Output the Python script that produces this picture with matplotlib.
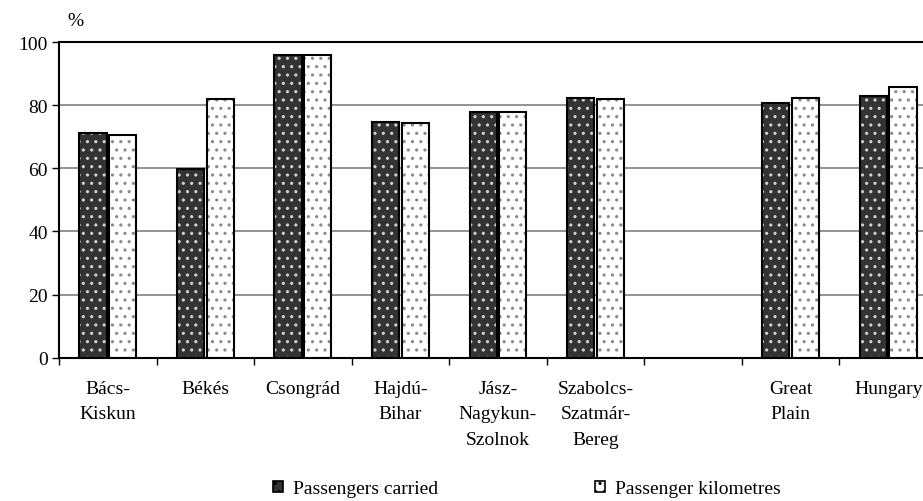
import matplotlib
matplotlib.use("Agg")
import matplotlib.pyplot as plt
from matplotlib.patches import Patch
import numpy as np

plt.rcParams['font.family'] = ['Liberation Serif', 'DejaVu Serif']
plt.rcParams['hatch.linewidth'] = 1.1

# data
categories = ["Bács-\nKiskun", "Békés", "Csongrád", "Hajdú-\nBihar",
              "Jász-\nNagykun-\nSzolnok", "Szabolcs-\nSzatmár-\nBereg", "",
              "Great\nPlain", "Hungary"]
carried = [71.3, 59.7, 95.8, 74.8, 77.8, 82.4, None, 80.6, 82.9]
kilometres = [70.7, 82.0, 95.8, 74.4, 77.7, 81.8, None, 82.4, 85.9]
yticks = [0, 20, 40, 60, 80, 100]

W, H = 923, 502
fig = plt.figure(figsize=(W / 100, H / 100), dpi=100)
ax = fig.add_axes([59 / W, 1 - 358.7 / H, (937 - 59) / W, (358.7 - 43) / H])

bw = 0.28
off = 0.152
x_all = np.arange(len(categories))
idx = [i for i, v in enumerate(carried) if v is not None]
xs = x_all[idx]
c_vals = [carried[i] for i in idx]
k_vals = [kilometres[i] for i in idx]

# fills with dotted hatch, then black outline on top
ax.bar(xs - off, c_vals, bw, color="#333333", hatch="..", edgecolor="#d0d0d0",
       linewidth=0, zorder=3)
ax.bar(xs - off, c_vals, bw, fill=False, edgecolor="black", linewidth=1.5, zorder=4)
ax.bar(xs + off, k_vals, bw, color="white", hatch="..", edgecolor="#8a8a8a",
       linewidth=0, zorder=3)
ax.bar(xs + off, k_vals, bw, fill=False, edgecolor="black", linewidth=1.5, zorder=4)

ax.set_xlim(-0.5, len(categories) - 0.5)
ax.set_ylim(0, 100)
ax.set_yticks(yticks)
ax.set_yticklabels([str(t) for t in yticks], fontsize=14)
ax.yaxis.grid(True, color="#808080", linewidth=1.2, zorder=0)
ax.set_axisbelow(True)

ax.set_xticks(x_all)
ax.set_xticklabels(categories, fontsize=14, linespacing=1.65, va="top")
ax.set_xticks(np.arange(-0.5, len(categories)), minor=True)
ax.tick_params(axis="x", which="major", length=0, pad=16)
ax.tick_params(axis="x", which="minor", length=5, width=1, direction="out")
ax.tick_params(axis="y", length=5, width=1, direction="out", pad=3)

for s in ["left", "bottom", "top"]:
    ax.spines[s].set_linewidth(1.5)
ax.spines["right"].set_visible(False)

fig.text(75 / W, 1 - 21 / H, "%", fontsize=14, ha="center", va="center")

handles = [Patch(facecolor="#333333", hatch="..", edgecolor="black", linewidth=1.2),
           Patch(facecolor="white", hatch="..", edgecolor="black", linewidth=1.2)]
fig.legend(handles, ["Passengers carried", "Passenger kilometres"], loc="center",
           bbox_to_anchor=(527 / W, 1 - 490 / H), ncol=2, frameon=False,
           prop={"family": "Liberation Serif", "size": 14},
           handlelength=0.5, handleheight=0.5, handletextpad=0.5,
           columnspacing=8.1)

fig.savefig("out.png", dpi=100)
